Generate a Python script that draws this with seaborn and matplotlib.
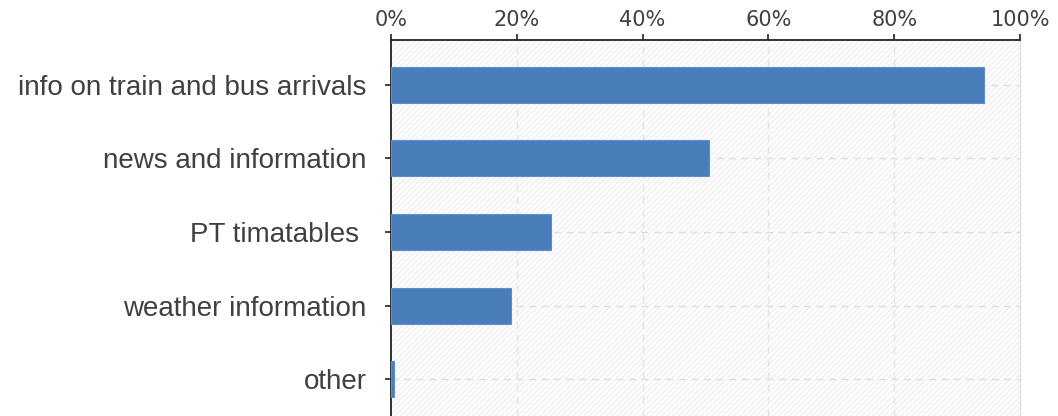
import matplotlib
matplotlib.use("Agg")
import matplotlib.pyplot as plt
import seaborn as sns
import pandas as pd
from matplotlib.ticker import FuncFormatter

categories = ["info on train and bus arrivals", "news and information",
              "PT timatables ", "weather information", "other"]
shares = [94.2, 50.5, 25.5, 19.0, 0.5]
x_ticks = [0, 20, 40, 60, 80, 100]

df = pd.DataFrame({"category": categories, "share": shares})

sns.set_style("white")
plt.rcParams["hatch.linewidth"] = 0.8

fig = plt.figure(figsize=(10.58, 4.16), dpi=100)
ax = fig.add_axes([391 / 1058, 0.0, (1020 - 391) / 1058, 1 - 40 / 416])

# light diagonal hatch behind the plot area
ax.patch.set_facecolor("white")
ax.patch.set_hatch("//////")
ax.patch.set_edgecolor("#ececec")

sns.barplot(data=df, x="share", y="category", orient="h", color="#4a7ebb",
            saturation=1, width=0.49, edgecolor="#5b8fd0", linewidth=0.8,
            ax=ax, zorder=3)

ax.set_xlim(0, 100)
ax.set_ylim(4.5, -0.61)
ax.set_xticks(x_ticks)
ax.xaxis.set_major_formatter(FuncFormatter(lambda v, p: f"{v:.0f}%"))
ax.xaxis.tick_top()
ax.set_xlabel("")
ax.set_ylabel("")

# dashed grid
for v in x_ticks[1:-1]:
    ax.axvline(v, color="#e3e3e3", lw=1, ls=(0, (5, 4)), zorder=1)
for i in range(len(categories)):
    ax.axhline(i, color="#dcdcdc", lw=1, ls=(0, (5, 4)), zorder=1)

ax.spines["bottom"].set_visible(False)
ax.spines["right"].set_color("#e0e0e0")
ax.spines["right"].set_linewidth(1)
ax.spines["top"].set_color("#222222")
ax.spines["top"].set_linewidth(1.3)
ax.spines["left"].set_color("#222222")
ax.spines["left"].set_linewidth(1.3)

ax.tick_params(axis="x", top=True, bottom=False, direction="out", length=4,
               width=1.2, color="#222222", labelsize=15, labelcolor="#404040", pad=3)
ax.tick_params(axis="y", left=True, direction="out", length=4.5, width=1.2,
               color="#222222", labelsize=20, labelcolor="#404040", pad=13)
for lab in ax.get_xticklabels():
    lab.set_family("DejaVu Sans")
for lab in ax.get_yticklabels():
    lab.set_family("Liberation Sans")

fig.savefig("out.png", dpi=100)
